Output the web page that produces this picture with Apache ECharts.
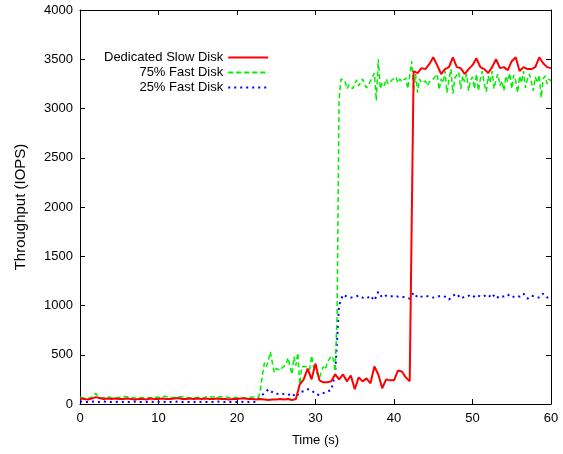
<!DOCTYPE html>
<html>
<head>
    <meta charset="UTF-8">
    <title>Throughput</title>
    <script src="https://cdn.jsdelivr.net/npm/echarts@6/dist/echarts.min.js"></script>
    <style>
        html, body { margin: 0; padding: 0; background: #fff; }
        #chart { width: 563px; height: 454px; }
    </style>
</head>
<body>
<div id="chart"></div>
<script>
    // series names
    var seriesNames = ['Dedicated Slow Disk', '75% Fast Disk', '25% Fast Disk'];

    // red: one sample every 0.5 s, 0..60
    var slowStep = 0.5;
    var slowDisk = [
        55, 50, 45, 55, 70, 60, 50, 55, 50, 55, 50, 50, 55, 50, 45, 50, 50, 45, 55, 50,
        50, 55, 50, 50, 55, 60, 50, 50, 55, 50, 55, 50, 55, 50, 50, 55, 50, 50, 45, 50,
        50, 55, 55, 50, 50, 45, 50, 45, 40, 45, 45, 50, 45, 50, 40, 50, 200, 250, 360, 250,
        410, 240, 220, 220, 230, 300, 250, 300, 230, 290, 150, 270, 230, 260, 210, 380, 300, 160, 250, 240,
        240, 340, 330, 270, 230, 3380, 3360, 3410, 3400, 3450, 3520, 3440, 3350, 3400, 3420, 3520, 3420, 3410, 3350, 3400,
        3440, 3510, 3420, 3400, 3360, 3420, 3500, 3410, 3420, 3390, 3480, 3520, 3380, 3420, 3400, 3400, 3420, 3520, 3460, 3420,
        3410
    ];

    // green: one sample every 0.25 s, 0..60
    var fast75Step = 0.25;
    var fast75 = [
        70, 65, 60, 75, 55, 60, 70, 65, 110, 80, 70, 60, 75, 70, 65, 70, 75, 60, 70, 65,
        65, 70, 60, 75, 65, 70, 60, 65, 70, 55, 60, 65, 70, 60, 75, 65, 70, 60, 80, 70,
        75, 65, 70, 80, 60, 70, 75, 65, 80, 70, 65, 75, 60, 70, 75, 65, 70, 60, 75, 65,
        70, 65, 75, 60, 70, 80, 65, 70, 60, 75, 65, 70, 60, 75, 65, 70, 80, 60, 70, 65,
        70, 60, 75, 65, 70, 60, 65, 70, 60, 70, 65, 70, 150, 300, 420, 380, 440, 530, 420, 320,
        360, 380, 340, 370, 350, 400, 470, 380, 300, 480, 390, 520, 200, 380, 360, 380, 400, 350, 490, 380,
        380, 300, 260, 330, 380, 350, 420, 440, 490, 460, 330, 900, 3100, 3300, 3320, 3280, 3200, 3240, 3260, 3200,
        3250, 3290, 3230, 3270, 3300, 3250, 3210, 3240, 3280, 3290, 3360, 3080, 3500, 3200, 3260, 3230, 3300, 3250, 3270, 3290,
        3280, 3320, 3260, 3300, 3270, 3250, 3310, 3200, 3330, 3480, 3180, 3350, 3160, 3300, 3260, 3250, 3280, 3230, 3270, 3290,
        3300, 3280, 3350, 3190, 3300, 3260, 3380, 3160, 3290, 3400, 3150, 3310, 3290, 3370, 3200, 3330, 3270, 3350, 3180, 3290,
        3320, 3200, 3350, 3180, 3300, 3380, 3250, 3170, 3330, 3260, 3380, 3200, 3300, 3350, 3230, 3280, 3180, 3330, 3270, 3360,
        3200, 3340, 3280, 3160, 3330, 3260, 3380, 3210, 3300, 3350, 3270, 3180, 3320, 3260, 3340, 3110, 3300, 3330, 3250, 3300,
        3280
    ];

    // blue: one sample every 0.5 s, 0..60
    var fast25Step = 0.5;
    var fast25 = [
        25, 20, 20, 25, 20, 20, 25, 20, 20, 20, 25, 20, 20, 20, 25, 20, 20, 20, 25, 20,
        20, 25, 20, 20, 20, 25, 20, 20, 20, 20, 25, 20, 20, 20, 20, 25, 20, 20, 20, 20,
        20, 20, 25, 20, 20, 25, 80, 110, 150, 120, 100, 110, 100, 90, 110, 70, 120, 130, 150, 140,
        100, 90, 110, 130, 140, 300, 1000, 1110, 1090, 1080, 1090, 1100, 1080, 1070, 1100, 1050, 1140, 1080, 1100, 1090,
        1100, 1090, 1090, 1080, 1070, 1130, 1080, 1090, 1100, 1090, 1080, 1090, 1100, 1090, 1060, 1100, 1120, 1070, 1090, 1100,
        1080, 1110, 1090, 1100, 1080, 1120, 1070, 1100, 1090, 1110, 1080, 1100, 1090, 1120, 1070, 1100, 1090, 1080, 1120, 1080,
        1090
    ];

    var xTicks = [0, 10, 20, 30, 40, 50, 60];
    var yTicks = [0, 500, 1000, 1500, 2000, 2500, 3000, 3500, 4000];

    function pairs(vals, step) {
        return vals.map(function (v, i) { return [i * step, v]; });
    }

    var font = '"Liberation Sans", Arial, sans-serif';

    var myChart = echarts.init(document.getElementById('chart'), null, { renderer: 'canvas' });

    function xAxisCfg(pos, showLabel) {
        return {
            type: 'value',
            position: pos,
            min: xTicks[0],
            max: xTicks[xTicks.length - 1],
            interval: 10,
            name: showLabel ? 'Time (s)' : '',
            nameLocation: 'middle',
            nameGap: 30,
            nameTextStyle: { fontFamily: font, fontSize: 13, color: '#000' },
            axisLine: { show: true, onZero: false, lineStyle: { color: '#000', width: 1 } },
            axisTick: { show: true, inside: true, length: 5, lineStyle: { color: '#000' } },
            axisLabel: { show: showLabel, fontFamily: font, fontSize: 13, color: '#000', margin: 8,
                formatter: function (v) { return String(v); } },
            splitLine: { show: false }
        };
    }

    function yAxisCfg(pos, showLabel) {
        return {
            type: 'value',
            position: pos,
            min: yTicks[0],
            max: yTicks[yTicks.length - 1],
            interval: 500,
            name: showLabel ? 'Throughput (IOPS)' : '',
            nameLocation: 'middle',
            nameGap: 52,
            nameTextStyle: { fontFamily: font, fontSize: 15, color: '#000' },
            axisLine: { show: true, onZero: false, lineStyle: { color: '#000', width: 1 } },
            axisTick: { show: true, inside: true, length: 5, lineStyle: { color: '#000' } },
            axisLabel: { show: showLabel, fontFamily: font, fontSize: 13, color: '#000', margin: 7,
                formatter: function (v) { return String(v); } },
            splitLine: { show: false }
        };
    }

    var option = {
        animation: false,
        backgroundColor: '#fff',
        grid: { left: 80, right: 12, top: 10, bottom: 50, containLabel: false },
        legend: {
            orient: 'vertical',
            left: 99,
            top: 46,
            align: 'right',
            itemWidth: 40,
            itemHeight: 14,
            itemGap: 2,
            itemStyle: { opacity: 0 },
            textStyle: { fontFamily: font, fontSize: 13, color: '#000' },
            data: seriesNames
        },
        xAxis: [xAxisCfg('bottom', true), xAxisCfg('top', false)],
        yAxis: [yAxisCfg('left', true), yAxisCfg('right', false)],
        series: [
            {
                name: seriesNames[0],
                type: 'line',
                showSymbol: false,
                symbol: 'none',
                data: pairs(slowDisk, slowStep),
                lineStyle: { color: '#ff0000', width: 2 },
                itemStyle: { color: '#ff0000' },
                z: 4
            },
            {
                name: seriesNames[1],
                type: 'line',
                showSymbol: false,
                symbol: 'none',
                data: pairs(fast75, fast75Step),
                lineStyle: { color: '#00ee00', width: 1.5, type: [5, 3] },
                itemStyle: { color: '#00ee00' },
                z: 3
            },
            {
                name: seriesNames[2],
                type: 'line',
                showSymbol: false,
                symbol: 'none',
                data: pairs(fast25, fast25Step),
                lineStyle: { color: '#0000ff', width: 2, type: [2, 4] },
                itemStyle: { color: '#0000ff' },
                z: 2
            }
        ]
    };

    myChart.setOption(option);
</script>
</body>
</html>
